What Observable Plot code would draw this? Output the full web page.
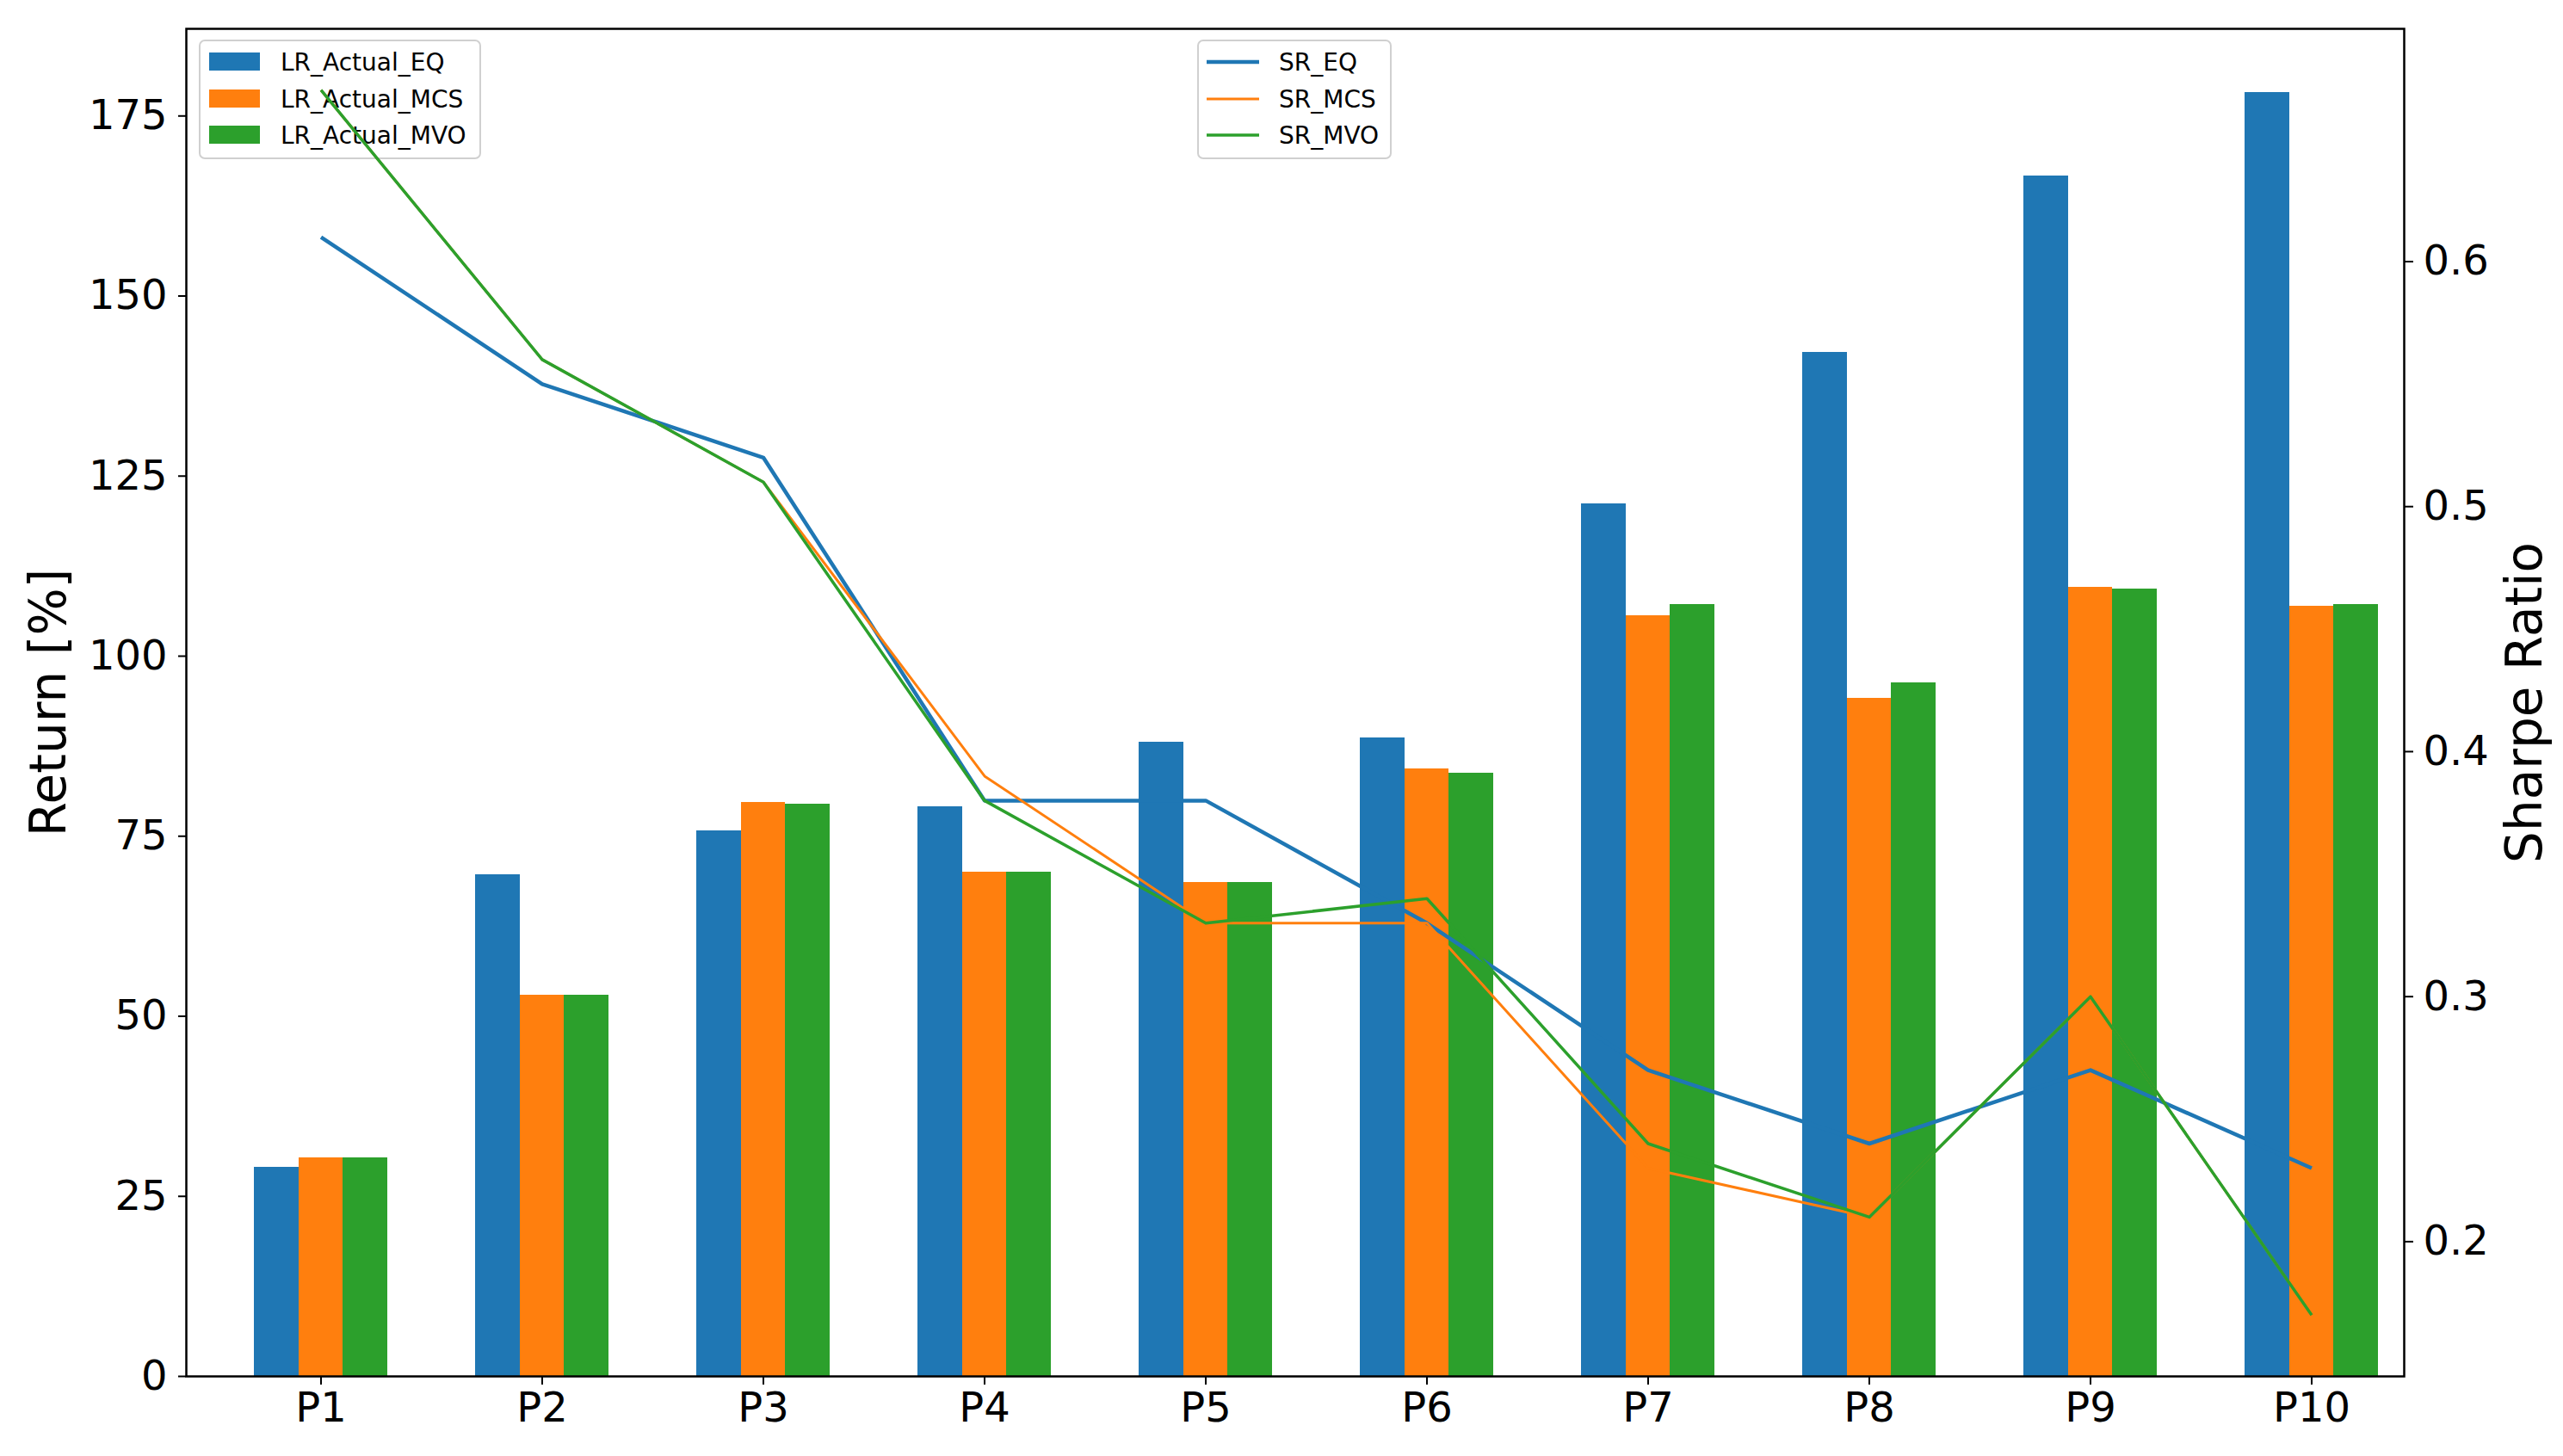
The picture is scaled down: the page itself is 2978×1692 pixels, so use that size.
<!DOCTYPE html>
<html>
<head>
<meta charset="utf-8">
<script src="https://cdn.jsdelivr.net/npm/d3@7"></script>
<script src="https://cdn.jsdelivr.net/npm/@observablehq/plot@0.6"></script>
<style>
  html, body { margin: 0; padding: 0; background: #fff; }
  #chart svg { display: block; }
</style>
</head>
<body>
<div id="chart"></div>
<script>
// ---------------- data ----------------
const periods = ["P1", "P2", "P3", "P4", "P5", "P6", "P7", "P8", "P9", "P10"];
const barSeries = ["LR_Actual_EQ", "LR_Actual_MCS", "LR_Actual_MVO"];
const lineSeries = ["SR_EQ", "SR_MCS", "SR_MVO"];

const lrActualEQ  = [29.0, 69.6, 75.7, 79.1, 88.1, 88.7, 121.1, 142.2, 166.7, 178.2];
const lrActualMCS = [30.3, 52.9, 79.7, 70.0, 68.6, 84.4, 105.6,  94.2, 109.6, 106.9];
const lrActualMVO = [30.3, 52.9, 79.4, 70.0, 68.6, 83.7, 107.2,  96.3, 109.3, 107.2];

const srEQ  = [0.61, 0.55, 0.52, 0.38, 0.38, 0.33, 0.27, 0.24, 0.27, 0.23];
const srMCS = [0.67, 0.56, 0.51, 0.39, 0.33, 0.33, 0.23, 0.21, 0.30, 0.17];
const srMVO = [0.67, 0.56, 0.51, 0.38, 0.33, 0.34, 0.24, 0.21, 0.30, 0.17];

const returnTicks = [0, 25, 50, 75, 100, 125, 150, 175];
const sharpeTicks = [0.2, 0.3, 0.4, 0.5, 0.6];
const returnDomain = [0, 187.1];
const sharpeDomain = [0.145, 0.695];

const yLabel = "Return [%]";
const y2Label = "Sharpe Ratio";
const colors = ["#1f77b4", "#ff7f0e", "#2ca02c"];

// ---------------- tables ----------------
const barValues = [lrActualEQ, lrActualMCS, lrActualMVO];
const srValues = [srEQ, srMCS, srMVO];
const barTables = barSeries.map((s, k) => periods.map((p, i) => ({period: p, series: s, value: barValues[k][i]})));
const lineTables = lineSeries.map((s, k) => periods.map((p, i) => ({period: p, series: s, sr: srValues[k][i]})));

// map Sharpe ratio onto the return axis (secondary axis)
const toY = d3.scaleLinear().domain(sharpeDomain).range(returnDomain);

// ---------------- layout ----------------
const W = 2978, H = 1692;
const mL = 216, mR = W - 2793, mT = 33, mB = H - 1599;
const step = 257.6;
const xRange = [370 - step / 2, 370 - step / 2 + step * periods.length];
const barW = 51.5;
const inset = (step - barW) / 2;
const lineWidths = [4.5, 3, 3.5];

const marks = [];
barTables.forEach((t, k) => {
  marks.push(Plot.barY(t, {
    x: "period", y: "value", fill: colors[k],
    insetLeft: inset - 0.5, insetRight: inset - 0.5, dx: (k - 1) * barW,
    shapeRendering: "crispEdges"
  }));
});
lineTables.forEach((t, k) => {
  marks.push(Plot.line(t, {
    x: "period", y: d => toY(d.sr), stroke: colors[k], strokeWidth: lineWidths[k],
    strokeLinejoin: "round", strokeLinecap: "butt"
  }));
});
marks.push(Plot.frame({stroke: "black", strokeWidth: 2.5}));
marks.push(Plot.axisX({tickSize: 10, tickPadding: 8, strokeWidth: 2, label: null, fontSize: 48}));
marks.push(Plot.axisY({ticks: returnTicks, tickSize: 9, tickPadding: 13, strokeWidth: 2, label: null, fontSize: 48}));
marks.push(Plot.axisY({
  anchor: "right", ticks: sharpeTicks.map(v => toY(v)),
  tickFormat: v => toY.invert(v).toFixed(1),
  tickSize: 10, tickPadding: 12, strokeWidth: 2, label: null, fontSize: 48
}));
marks.push(Plot.text([yLabel], {frameAnchor: "left", textAnchor: "middle", lineAnchor: "middle", text: d => d, rotate: -90, dx: 57 - mL, fontSize: 58}));
marks.push(Plot.text([y2Label], {frameAnchor: "right", textAnchor: "middle", lineAnchor: "middle", text: d => d, rotate: -90, dx: 2934 - 2793, fontSize: 58}));

const chart = Plot.plot({
  width: W, height: H,
  marginLeft: mL, marginRight: mR, marginTop: mT, marginBottom: mB,
  x: {type: "band", domain: periods, range: xRange, paddingInner: 0, paddingOuter: 0},
  y: {domain: returnDomain},
  style: {fontFamily: "DejaVu Sans", fontSize: "48px", color: "black", background: "white"},
  marks
});
document.getElementById("chart").appendChild(chart);

// ---------------- legends ----------------
const svg = d3.select(chart);
const rowsY = [72, 115, 157];
const firstLine = chart.querySelector('g[aria-label="line"]');
const lg1 = d3.select(chart.insertBefore(document.createElementNS("http://www.w3.org/2000/svg", "g"), firstLine));
lg1.append("rect").attr("x", 232).attr("y", 47).attr("width", 326).attr("height", 137)
  .attr("rx", 6).attr("fill", "white").attr("fill-opacity", 0.85).attr("stroke", "#d0d0d0").attr("stroke-width", 2);
barSeries.forEach((s, k) => {
  lg1.append("rect").attr("x", 243).attr("y", rowsY[k] - 11).attr("width", 59).attr("height", 21).attr("fill", colors[k]);
  lg1.append("text").attr("x", 326).attr("y", rowsY[k]).attr("dy", "0.36em").attr("text-anchor", "start")
    .attr("font-family", "DejaVu Sans").attr("font-size", 28).attr("fill", "black").text(s);
});
const lg2 = svg.append("g");
lg2.append("rect").attr("x", 1392).attr("y", 47).attr("width", 224).attr("height", 137)
  .attr("rx", 6).attr("fill", "white").attr("fill-opacity", 0.85).attr("stroke", "#d0d0d0").attr("stroke-width", 2);
lineSeries.forEach((s, k) => {
  lg2.append("line").attr("x1", 1402).attr("x2", 1463).attr("y1", rowsY[k]).attr("y2", rowsY[k])
    .attr("stroke", colors[k]).attr("stroke-width", lineWidths[k]);
  lg2.append("text").attr("x", 1486).attr("y", rowsY[k]).attr("dy", "0.36em").attr("text-anchor", "start")
    .attr("font-family", "DejaVu Sans").attr("font-size", 28).attr("fill", "black").text(s);
});
</script>
</body>
</html>
